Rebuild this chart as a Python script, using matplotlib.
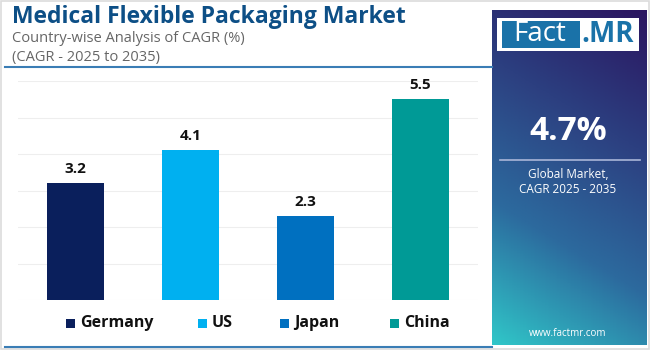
import numpy as np
import matplotlib
matplotlib.use('Agg')
import matplotlib.pyplot as plt
from matplotlib.colors import LinearSegmentedColormap
from matplotlib.patches import Rectangle

## dados do gráfico ##
paises = ["Germany", "US", "Japan", "China"]
cagr = [3.2, 4.1, 2.3, 5.5]
cores = ["#0a1f5c", "#00b0f0", "#0070c0", "#009a96"]
global_cagr = "4.7%"

W, H = 650, 350
fig = plt.figure(figsize=(W / 100, H / 100), dpi=100)
fig.patch.set_facecolor("white")

fonte = "Open Sans"

def px(x, y):
    ## converte pixel (topo-esquerda) pra coordenada da figura ##
    return x / W, 1 - y / H

## borda clarinha em volta da imagem ##
fig.add_artist(Rectangle((0.001, 0.002), 0.997, 0.995, transform=fig.transFigure,
                         fill=False, edgecolor="#dcdcdc", lw=1.2))

## cabeçalho ##
fig.text(*px(12, 17), "Medical Flexible Packaging Market", fontsize=16.5, fontweight="bold",
         color="#0d4f86", family=fonte, va="center", ha="left")
fig.text(*px(12, 38), "Country-wise Analysis of CAGR (%)", fontsize=10.5,
         color="#666666", family=fonte, va="center", ha="left")
fig.text(*px(12, 57), "(CAGR - 2025 to 2035)", fontsize=10.5,
         color="#666666", family=fonte, va="center", ha="left")

## linhas horizontais azul ##
fig.add_artist(plt.Line2D([px(5, 0)[0], px(492, 0)[0]], [px(0, 67)[1]] * 2,
                          transform=fig.transFigure, color="#3a7db5", lw=1.5))
fig.add_artist(plt.Line2D([px(5, 0)[0], px(492, 0)[0]], [px(0, 347)[1]] * 2,
                          transform=fig.transFigure, color="#3a7db5", lw=1.5))

## gráfico de barras ##
ax = fig.add_axes([18 / W, 50 / H, 460 / W, 219 / H])
x = np.arange(len(paises))
ax.bar(x, cagr, width=0.5, color=cores, zorder=3)
for xi, v in zip(x, cagr):
    ax.text(xi, v + 0.2, f"{v}", ha="center", va="bottom", fontsize=11,
            fontweight="bold", color="#111111", family=fonte)
ax.set_xlim(-0.5, 3.5)
ax.set_ylim(0, 6)
ax.set_yticks(np.arange(0, 7, 1))
ax.grid(axis="y", color="#eeeeee", lw=0.8, zorder=0)
ax.tick_params(left=False, bottom=False, labelleft=False, labelbottom=False)
for s in ax.spines.values():
    s.set_visible(False)

## legenda manual ##
leg_x = [66, 198, 280, 390]
for lx, nome, cor in zip(leg_x, paises, cores):
    fig.add_artist(Rectangle(px(lx, 328), 9 / W, 9 / H, transform=fig.transFigure,
                             facecolor=cor, edgecolor="none"))
    fig.text(*px(lx + 14, 323), nome, fontsize=11.5, fontweight="bold",
             color="#111111", family=fonte, va="center", ha="left")

## painel da direita com degradê diagonal ##
pax = fig.add_axes([492 / W, 5 / H, 155 / W, 335 / H])
cmap = LinearSegmentedColormap.from_list("fm", ["#2b1560", "#2c3f80", "#2c6a9e", "#30c6c8"])
gy, gx = np.mgrid[0:1:200j, 0:1:100j]
grad = np.clip(0.78 * gy + 0.22 * (1 - gx), 0, 1)
pax.imshow(grad, cmap=cmap, aspect="auto", extent=(0, 1, 0, 1), origin="upper")
pax.set_xlim(0, 1)
pax.set_ylim(0, 1)
pax.axis("off")

## logo ##
fig.add_artist(Rectangle(px(497, 51), 142 / W, 33 / H, transform=fig.transFigure,
                         facecolor="white", edgecolor="none"))
fig.add_artist(Rectangle(px(502, 48), 78 / W, 27 / H, transform=fig.transFigure,
                         facecolor="#1a72a8", edgecolor="none"))
fig.text(*px(540, 34), "Fact", fontsize=20, color="white", family=fonte,
         va="center", ha="center")
fig.text(*px(608, 34), ".MR", fontsize=20, fontweight="bold", color="#1a72a8",
         family=fonte, va="center", ha="center")

## valor global ##
fig.text(*px(568, 131), global_cagr, fontsize=24, fontweight="bold", color="white",
         family=fonte, va="center", ha="center")
fig.add_artist(plt.Line2D([px(500, 0)[0], px(640, 0)[0]], [px(0, 160)[1]] * 2,
                          transform=fig.transFigure, color="#a9b6d8", lw=1.2))
fig.text(*px(568, 175), "Global Market,", fontsize=8.5, color="white", family=fonte,
         va="center", ha="center")
fig.text(*px(568, 190), "CAGR 2025 - 2035", fontsize=8.5, color="white", family=fonte,
         va="center", ha="center")
fig.text(*px(568, 334), "www.factmr.com", fontsize=7, color="white", family=fonte,
         va="center", ha="center")

fig.savefig("out.png", dpi=100)
